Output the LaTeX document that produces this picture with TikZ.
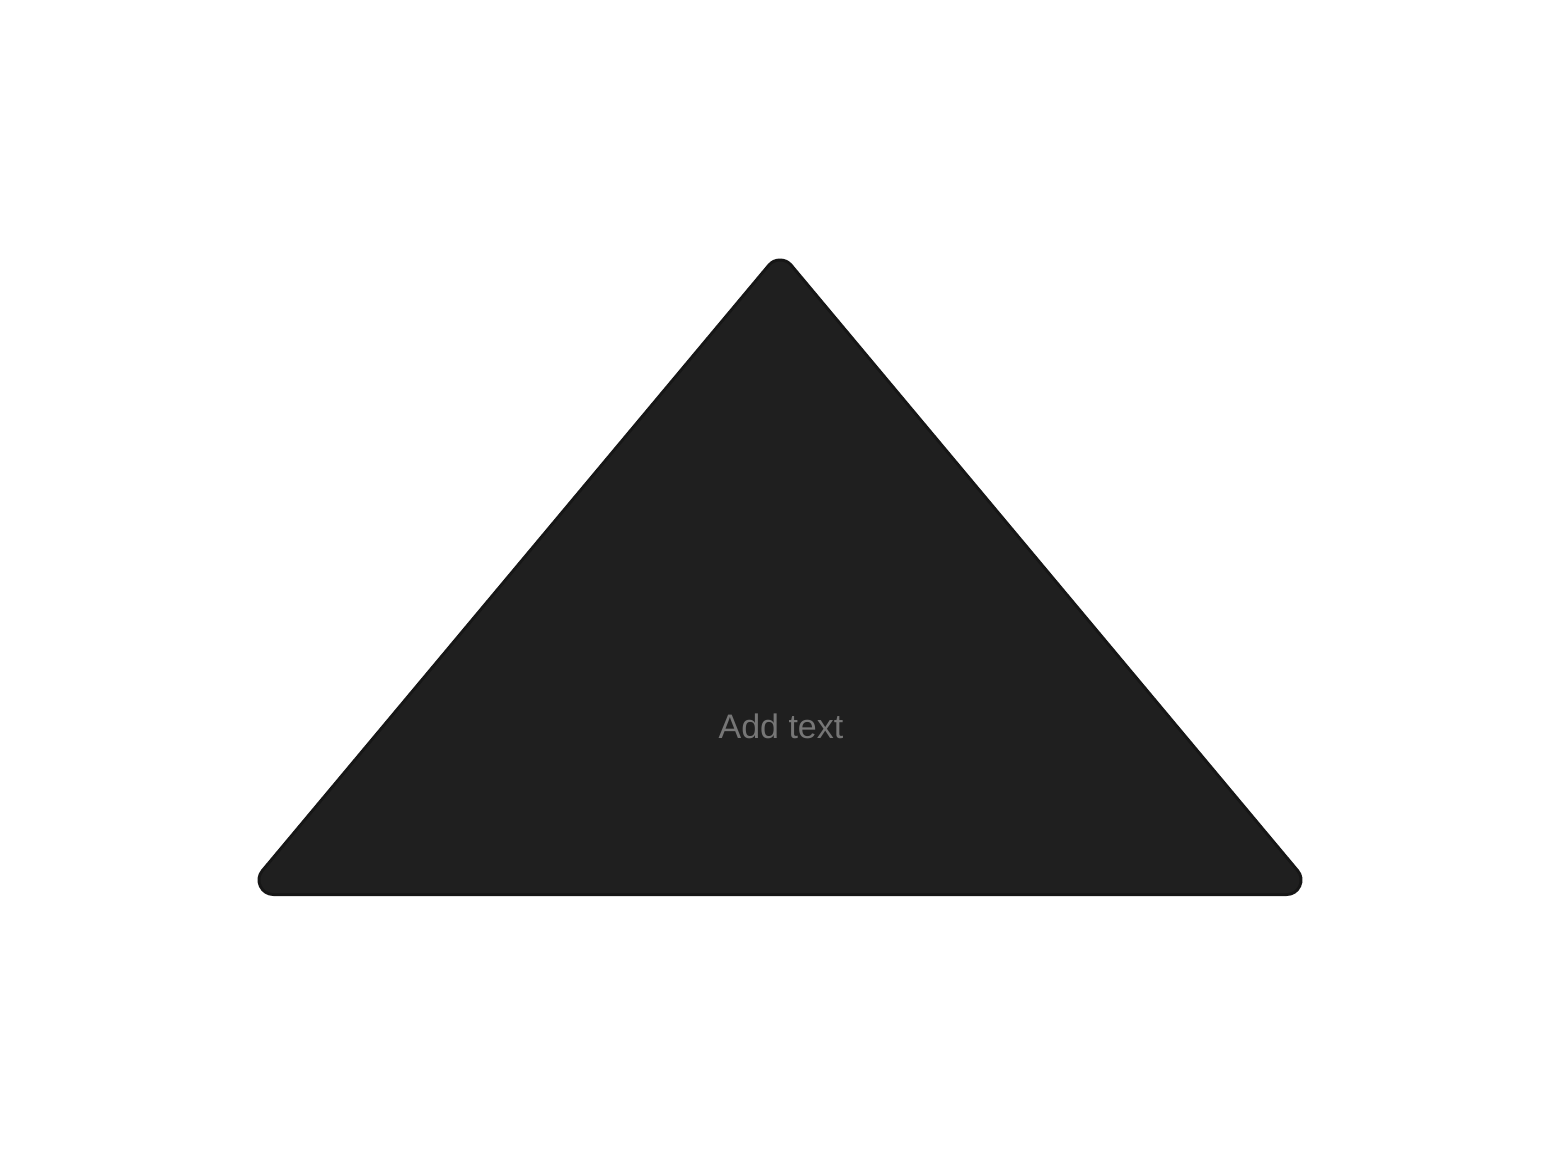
\documentclass[tikz,border=0pt]{standalone}
\usepackage{fontspec}
\setmainfont{Liberation Sans}
\definecolor{trifill}{HTML}{1F1F1F}
\definecolor{triline}{HTML}{161616}
\definecolor{txtgray}{HTML}{767676}
\tikzset{
  triout/.style={draw=triline, line width=32bp, line join=round},
  triin/.style={fill=trifill, draw=trifill, line width=26bp, line join=round},
  lbl/.style={text=txtgray, font=\fontsize{34bp}{40bp}\selectfont, inner sep=0pt}
}
\begin{document}
\begin{tikzpicture}[x=1bp,y=-1bp]
\useasboundingbox[fill=white] (0,0) rectangle (1560,1152);
\coordinate (top) at (780,274.5);
\coordinate (bl) at (273.5,880);
\coordinate (br) at (1286.5,880);
\draw[triout] (top) -- (br) -- (bl) -- cycle;
\draw[triin] (top) -- (br) -- (bl) -- cycle;
\node[lbl, anchor=base] (t) at (781,738) {Add text};
\end{tikzpicture}
\end{document}
